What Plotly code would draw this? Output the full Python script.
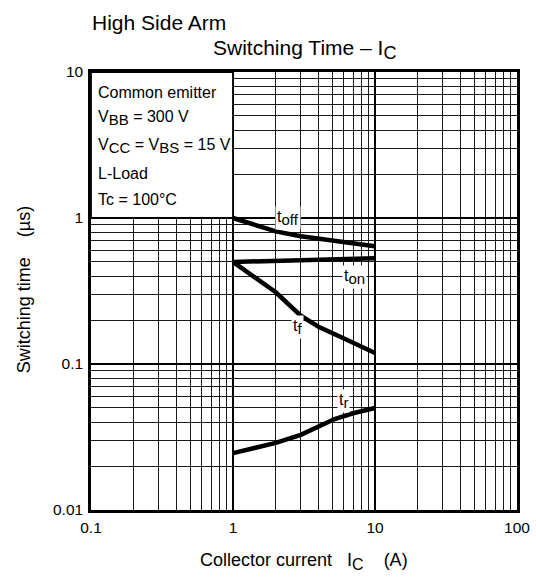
import numpy as np
import plotly.graph_objects as go

# Data (Ic in A, times in us)
ic_off = [1, 2, 3, 5, 10]
t_off = [1.0, 0.81, 0.75, 0.70, 0.64]

ic_on = [1, 3, 10]
t_on = [0.50, 0.51, 0.53]

ic_f = [1, 2, 3, 4, 6, 10]
t_f = [0.50, 0.31, 0.214, 0.18, 0.15, 0.119]

ic_r = [1, 2, 3, 5.2, 7, 10]
t_r = [0.0245, 0.0288, 0.0327, 0.042, 0.046, 0.050]

x_ticks = [0.1, 1, 10, 100]
x_tick_labels = ["0.1", "1", "10", "100"]
y_ticks = [0.01, 0.1, 1, 10]
y_tick_labels = ["0.01", "0.1", "1", "10"]


def sub(s, size):
    return f'<sub><span style="font-size:{size}px">{s}</span></sub>'


conditions = ["Common emitter",
              "V" + sub("BB", 15) + " = 300 V",
              "V" + sub("CC", 15) + " = V" + sub("BS", 15) + " = 15 V",
              "L-Load", "Tc = 100°C"]

FONT = "Liberation Sans, Arial, sans-serif"

minor_x = [m * d for d in [0.1, 1, 10] for m in range(2, 10)]
minor_y = [m * d for d in [0.01, 0.1, 1] for m in range(2, 10)]

fig = go.Figure()
for xs, ys in [(ic_off, t_off), (ic_on, t_on), (ic_f, t_f), (ic_r, t_r)]:
    fig.add_trace(go.Scatter(x=xs, y=ys, mode="lines",
                             line=dict(color="black", width=4.5),
                             showlegend=False, hoverinfo="skip"))

axis_common = dict(type="log", showline=True, linecolor="black", linewidth=2.5,
                   mirror=True, ticks="", showgrid=True, gridcolor="black",
                   gridwidth=1.8, zeroline=False, automargin=False,
                   tickfont=dict(family=FONT, size=15.5, color="black"))

fig.update_xaxes(range=[-1, 2], tickvals=x_ticks, ticktext=x_tick_labels,
                 minor=dict(tickvals=minor_x, showgrid=True, gridcolor="#1a1a1a",
                            gridwidth=1.3, ticks=""),
                 ticklabelstandoff=2, **axis_common)
fig.update_yaxes(range=[-2, 1], tickvals=y_ticks, ticktext=y_tick_labels,
                 minor=dict(tickvals=minor_y, showgrid=True, gridcolor="#1a1a1a",
                            gridwidth=1.3, ticks=""),
                 ticklabelstandoff=2, **axis_common)

# condition box (covers grid in upper-left decade)
fig.add_shape(type="rect", xref="paper", yref="paper", x0=0, x1=1/3, y0=2/3, y1=1,
              fillcolor="white", line=dict(color="black", width=1.8), layer="above")

ann = []
ys_cond = [0.954, 0.895, 0.830, 0.769, 0.710]
for t, yy in zip(conditions, ys_cond):
    ann.append(dict(text=t, xref="paper", yref="paper", x=0.012, y=yy,
                    xanchor="left", yanchor="middle", showarrow=False,
                    font=dict(family=FONT, size=16, color="black")))

curve_labels = [("t" + sub("off", 15), 0.387, 0.0),
                ("t" + sub("on", 15), 0.859, -0.404),
                ("t" + sub("f", 15), 0.451, -0.747),
                ("t" + sub("r", 15), 0.775, -1.253)]
for t, lx, ly in curve_labels:
    ann.append(dict(text=t, x=lx, y=ly, xref="x", yref="y", showarrow=False,
                    bgcolor="white", borderpad=1,
                    font=dict(family=FONT, size=16, color="black")))

ann.append(dict(text="High Side Arm", xref="paper", yref="paper", x=-0.003, y=1.114,
                xanchor="left", yanchor="middle", showarrow=False,
                font=dict(family=FONT, size=21, color="black")))
ann.append(dict(text="Switching Time – I" + sub("C", 18), xref="paper", yref="paper",
                x=0.282, y=1.052, xanchor="left", yanchor="middle", showarrow=False,
                font=dict(family=FONT, size=21, color="black")))
ann.append(dict(text="Collector current\u00a0\u00a0\u00a0I" + sub("C", 16)
                + "\u00a0\u00a0\u00a0\u00a0(A)",
                xref="paper", yref="paper", x=0.5, y=-0.118, xanchor="center",
                yanchor="middle", showarrow=False,
                font=dict(family=FONT, size=18, color="black")))
ann.append(dict(text="Switching time\u00a0\u00a0\u00a0\u00a0(µs)", xref="paper", yref="paper",
                x=-0.157, y=0.502, xanchor="center", yanchor="middle", textangle=-90,
                showarrow=False, font=dict(family=FONT, size=18, color="black")))

fig.update_layout(width=536, height=579, margin=dict(l=91, r=19, t=72, b=69, autoexpand=False),
                  paper_bgcolor="white", plot_bgcolor="white", annotations=ann,
                  font=dict(family=FONT, color="black"))

fig.write_html("out.html", config={"displayModeBar": False},
               post_script="document.body.style.margin='0';"
                           "document.body.style.overflow='hidden';")
